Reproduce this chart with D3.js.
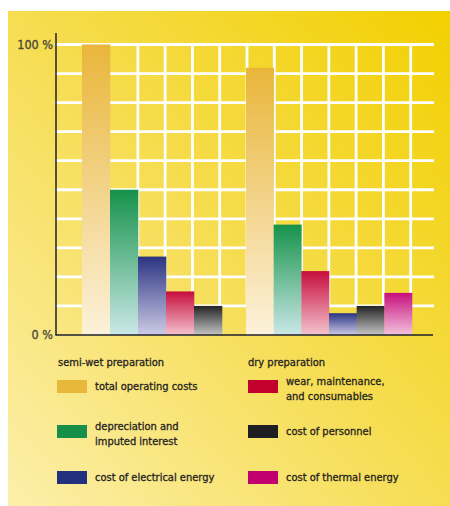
<!DOCTYPE html>
<html>
<head>
<meta charset="utf-8">
<script src="https://cdn.jsdelivr.net/npm/d3@7"></script>
<style>
  body { margin: 0; background: #fff; }
  svg { display: block; }
  .lbl { font-family: "Liberation Sans Narrow", "DejaVu Sans Condensed", sans-serif; fill: #26241f; stroke: #26241f; stroke-width: 0.3px; }
</style>
</head>
<body>
<div class="chart"></div>
<script>
// data
const groups = ['semi-wet preparation', 'dry preparation'];
const keys = ['total', 'depreciation', 'electrical', 'wear', 'personnel', 'thermal'];
const labels = [['total operating costs'], ['depreciation and', 'imputed interest'], ['cost of electrical energy'],
                ['wear, maintenance,', 'and consumables'], ['cost of personnel'], ['cost of thermal energy']];
const semiWetKeys = ['total', 'depreciation', 'electrical', 'wear', 'personnel'];
const semiWetValues = [100, 50, 27, 15, 10];
const dryKeys = ['total', 'depreciation', 'wear', 'electrical', 'personnel', 'thermal'];
const dryValues = [92, 38, 22, 7.5, 10, 14.5];
const yTicks = [0, 100];
const yTickLabels = ['0 %', '100 %'];

// colours: legend swatch, bar top, bar bottom
const swatch = {total: '#e8b83a', depreciation: '#178f48', electrical: '#22307f', wear: '#c3002b', personnel: '#1f1f22', thermal: '#c0006f'};
const topCol = {total: '#e9b63a', depreciation: '#15924a', electrical: '#2b3482', wear: '#c60d3c', personnel: '#232323', thermal: '#c60f7c'};
const botCol = {total: '#fcf1da', depreciation: '#cbe8e8', electrical: '#cccbe6', wear: '#f4c3cf', personnel: '#c6c6c6', thermal: '#f3c3de'};

const width = 450, height = 506;
const svg = d3.select('.chart').append('svg').attr('width', width).attr('height', height);
const defs = svg.append('defs');

// background panel
const bg = defs.append('linearGradient').attr('id', 'bg')
  .attr('x1', 0).attr('y1', 1).attr('x2', 1).attr('y2', 0);
bg.append('stop').attr('offset', 0).attr('stop-color', '#fcefaa');
bg.append('stop').attr('offset', 0.5).attr('stop-color', '#f6dd52');
bg.append('stop').attr('offset', 1).attr('stop-color', '#f2d000');
svg.append('rect').attr('x', 8).attr('y', 11).attr('width', 442).attr('height', 495).attr('fill', 'url(#bg)');

keys.forEach(k => {
  const g = defs.append('linearGradient').attr('id', 'g-' + k).attr('x1', 0).attr('y1', 0).attr('x2', 0).attr('y2', 1);
  g.append('stop').attr('offset', 0).attr('stop-color', topCol[k]);
  g.append('stop').attr('offset', 1).attr('stop-color', botCol[k]);
});

// scales
const y = d3.scaleLinear().domain([0, 100]).range([335, 44.5]);
const xSemi = d3.scaleBand().domain(semiWetKeys).range([82, 222]).padding(0);
const xDry = d3.scaleBand().domain(dryKeys).range([246, 412]).padding(0);
const gx = d3.scaleLinear().domain([0, 14]).range([56, 438]);

// grid
svg.append('g').selectAll('line').data(d3.range(10, 101, 10)).join('line')
  .attr('x1', 55).attr('x2', 434)
  .attr('y1', d => y(d)).attr('y2', d => y(d))
  .attr('stroke', '#fff').attr('stroke-width', 2.8);
svg.append('g').selectAll('line').data(d3.range(3, 14)).join('line')
  .attr('x1', d => gx(d)).attr('x2', d => gx(d))
  .attr('y1', y(100) - 1.4).attr('y2', y(10) + 1.4)
  .attr('stroke', '#fff').attr('stroke-width', 2.8);

// bars
const bars = semiWetKeys.map((k, i) => ({x: xSemi(k), w: xSemi.bandwidth(), key: k, v: semiWetValues[i]}))
  .concat(dryKeys.map((k, i) => ({x: xDry(k), w: xDry.bandwidth(), key: k, v: dryValues[i]})));
svg.append('g').selectAll('rect').data(bars).join('rect')
  .attr('x', d => d.x)
  .attr('width', d => d.w + 0.3)
  .attr('y', d => y(d.v))
  .attr('height', d => y(0) - y(d.v))
  .attr('fill', d => 'url(#g-' + d.key + ')');

// axes
svg.append('line').attr('x1', 56).attr('x2', 56).attr('y1', 33).attr('y2', y(0))
  .attr('stroke', '#1e1f2c').attr('stroke-width', 1.5);
svg.append('line').attr('x1', 55.3).attr('x2', 433).attr('y1', y(0)).attr('y2', y(0))
  .attr('stroke', '#1e1f2c').attr('stroke-width', 1.5);
svg.append('g').selectAll('text').data(yTicks).join('text')
  .attr('class', 'lbl')
  .attr('x', 53).attr('y', d => y(d)).attr('dy', '0.35em')
  .attr('text-anchor', 'end').style('font-size', '12.5px').style('fill', '#4a473a').style('stroke', '#4a473a')
  .text((d, i) => yTickLabels[i]);

// legend
const fs = '11px';
svg.append('text').attr('class', 'lbl').attr('x', 58).attr('y', 362).attr('dy', '0.35em')
  .style('font-size', fs).text(groups[0]);
svg.append('text').attr('class', 'lbl').attr('x', 248).attr('y', 362).attr('dy', '0.35em')
  .style('font-size', fs).text(groups[1]);

const legendPos = [[57, 380], [57, 425], [57, 471], [248, 380], [248, 425], [248, 471]];
const leg = svg.append('g').selectAll('g').data(keys).join('g')
  .attr('transform', (d, i) => `translate(${legendPos[i][0]},${legendPos[i][1]})`);
leg.append('rect').attr('width', 30).attr('height', 13).attr('fill', d => swatch[d]);
leg.append('text').attr('class', 'lbl').style('font-size', fs)
  .attr('y', (d, i) => labels[i].length > 1 ? 1 : 6.5)
  .selectAll('tspan').data((d, i) => labels[i]).join('tspan')
  .attr('x', 38).attr('dy', (t, j) => j === 0 ? '0.35em' : '15px')
  .text(t => t);
</script>
</body>
</html>
